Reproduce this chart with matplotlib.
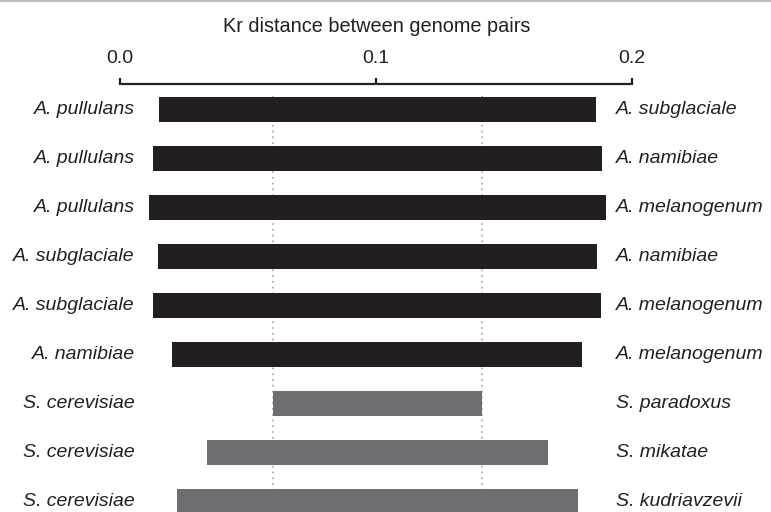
import matplotlib
matplotlib.use("Agg")
import matplotlib.pyplot as plt
from matplotlib.lines import Line2D

left_names = ["A. pullulans", "A. pullulans", "A. pullulans", "A. subglaciale", "A. subglaciale",
              "A. namibiae", "S. cerevisiae", "S. cerevisiae", "S. cerevisiae"]
right_names = ["A. subglaciale", "A. namibiae", "A. melanogenum", "A. namibiae", "A. melanogenum",
               "A. melanogenum", "S. paradoxus", "S. mikatae", "S. kudriavzevii"]
bar_start = [0.0154, 0.0129, 0.0113, 0.0148, 0.0129, 0.0203, 0.0598, 0.0340, 0.0223]
bar_end = [0.1859, 0.1883, 0.1898, 0.1863, 0.1879, 0.1805, 0.1414, 0.1672, 0.1789]
groups = ["A", "A", "A", "A", "A", "A", "S", "S", "S"]
ref_lines = [0.0598, 0.1414]
xticks = [0.0, 0.1, 0.2]
xtick_labels = ["0.0", "0.1", "0.2"]
title = "Kr distance between genome pairs"

colors = {"A": "#231f20", "S": "#6d6e71"}
W, H = 771, 512
fig = plt.figure(figsize=(W / 100, H / 100), dpi=100)
plt.rcParams['font.family'] = ['Liberation Sans', 'DejaVu Sans']

ax_top = 84
row0 = 109.5
step = 49
ax = fig.add_axes([120 / W, 0, (632 - 120) / W, 1 - ax_top / H])
ylo = -(row0 - ax_top) / step
yhi = (H - row0) / step
ax.set_ylim(yhi, ylo)
ax.set_xlim(0, 0.2)

for x in ref_lines:
    ax.plot([x, x], [-0.28, 10], color="#b0b0b0", lw=1.3, ls=(0, (1, 2.2)), zorder=1, clip_on=False)

for i, (s, e, g) in enumerate(zip(bar_start, bar_end, groups)):
    ax.barh(i, e - s, left=s, height=25 / step, color=colors[g], zorder=2)
    ax.text(0.00586, i, left_names[i], ha="right", va="center", fontsize=14, style="italic",
            color="#231f20", clip_on=False)
    ax.text(0.1938, i, right_names[i], ha="left", va="center", fontsize=14, style="italic",
            color="#231f20", clip_on=False)

for sp in ["left", "right", "bottom"]:
    ax.spines[sp].set_visible(False)
ax.spines["top"].set_color("#231f20")
ax.spines["top"].set_linewidth(1.6)
ax.xaxis.tick_top()
ax.set_xticks(xticks)
ax.set_xticklabels(xtick_labels, fontsize=14, color="#231f20")
ax.tick_params(axis="x", direction="out", length=4.5, width=1.6, color="#231f20", pad=8)
ax.set_yticks([])
ax.patch.set_visible(False)

fig.text(377 / W, 1 - 27 / H, title, ha="center", va="center", fontsize=14.3, color="#231f20")
fig.add_artist(Line2D([0, 1], [1 - 1 / H, 1 - 1 / H], color="#bdbdbd", lw=1.5))

fig.savefig("out.png", dpi=100)
